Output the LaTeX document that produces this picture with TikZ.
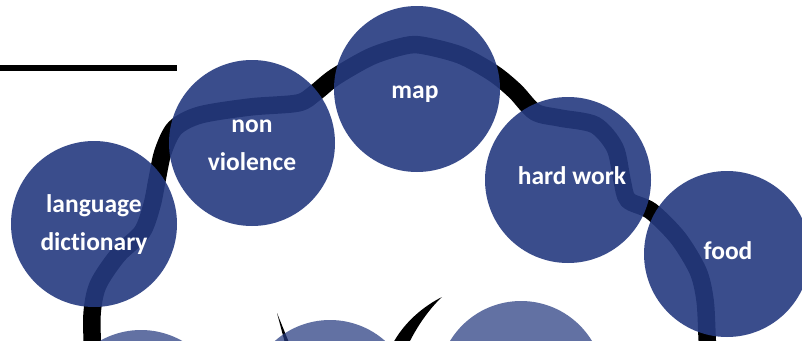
\documentclass[tikz,border=0pt]{standalone}
\usepackage{fontspec}
\setmainfont[Ligatures=CommonOff]{Carlito}
\definecolor{cb}{RGB}{37,58,128}
\begin{document}
\begin{tikzpicture}[x=1pt,y=-1pt,
  circ/.style={circle, minimum size=166pt, inner sep=0pt, fill=cb, fill opacity=0.9, draw=none},
  lowcirc/.style={circle, minimum size=166pt, inner sep=0pt, fill=cb, fill opacity=0.72, draw=none},
  lbl/.style={text=white, font=\bfseries\fontsize{25.5}{30}\selectfont, inner sep=0pt, anchor=base}]
\useasboundingbox (0,0) rectangle (802,340);
\clip (0,0) rectangle (802,340);
% top-left rule
\fill (0,65) rectangle (176.5,70.5);
% big brush arc
\draw[line width=17.5pt] plot[smooth, tension=0.5] coordinates {
 (93,360) (92,315) (98,285) (118,255) (142,232) (152,205) (157,180) (163,152)
 (175,128) (200,115) (250,107) (298,103) (315,93) (335,77) (370,57) (400,47) (420,45)
 (460,55) (493,73) (515,91) (535,112) (560,118) (595,125) (615,148) (622,180)
 (628,200) (651,211) (678,238) (698,271) (705,300) (707,335) (708,360)};
% lower swooshes
\fill (442,297) .. controls (424,306) and (404,322) .. (392,345) -- (408,345)
      .. controls (417,326) and (430,308) .. (442,297) -- cycle;
\fill (277,313) -- (290,345) -- (285.5,345) -- cycle;
% top row of circles
\node[circ] (c1) at (94,224) {};
\node[circ] (c2) at (252,143) {};
\node[circ] (c3) at (417,89) {};
\node[circ] (c4) at (568,180) {};
\node[circ] (c5) at (727,254) {};
% lower row of circles
\node[lowcirc] (d1) at (141,413) {};
\node[lowcirc] (d2) at (330,403) {};
\node[lowcirc] (d3) at (521,384) {};
% labels
\node[lbl] (t1a) at (94,212) {language};
\node[lbl] (t1b) at (94,250) {dictionary};
\node[lbl] (t2a) at (252,132) {non};
\node[lbl] (t2b) at (252,170) {violence};
\node[lbl] (t3) at (415,98) {map};
\node[lbl] (t4) at (572,184.5) {hard work};
\node[lbl] (t5) at (728,259.5) {food};
\end{tikzpicture}
\end{document}
